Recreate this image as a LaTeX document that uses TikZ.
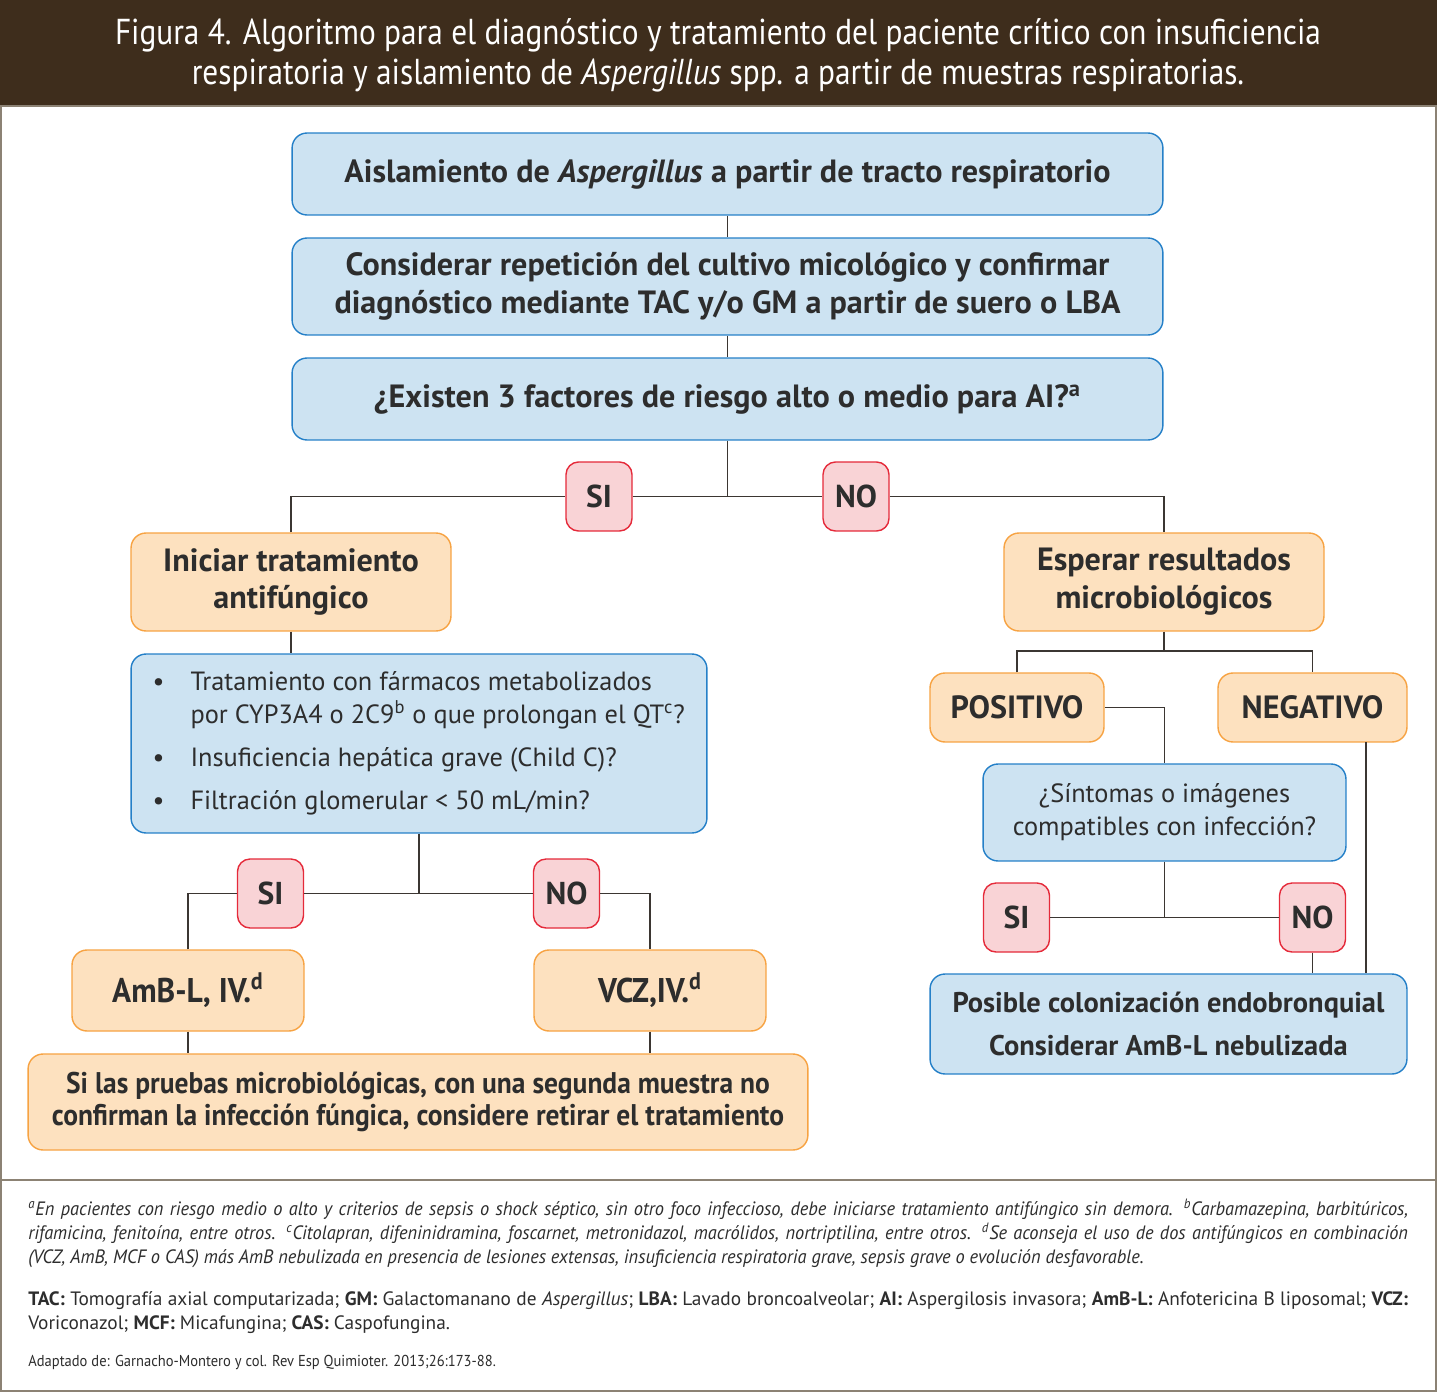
\documentclass[tikz,border=0pt]{standalone}
\usepackage{fontspec}
\setmainfont{PT Sans}
\newfontfamily\condfont{PT Sans}[FakeStretch=0.92]
\newfontfamily\headfont{PT Sans}[FakeStretch=0.87]
\newfontfamily\footfont{PT Sans}[FakeStretch=0.95]
\usepackage{xcolor}
\usepackage{tikz}

\definecolor{headbrown}{HTML}{3E2D1C}
\definecolor{framegray}{HTML}{8C8274}
\definecolor{linegray}{HTML}{3B3632}
\definecolor{txtgray}{HTML}{2D2D2D}
\definecolor{boxblue}{HTML}{2580C8}
\definecolor{fillblue}{HTML}{CDE3F2}
\definecolor{boxorange}{HTML}{F7A343}
\definecolor{fillorange}{HTML}{FDE1BF}
\definecolor{badgered}{HTML}{E52A3A}
\definecolor{fillpink}{HTML}{F9D3D6}

\begin{document}
\begin{tikzpicture}[x=0.02cm,y=-0.02cm,
  conn/.style={draw=linegray,line width=1.1pt},
  bluebox/.style={draw=boxblue,fill=fillblue,line width=0.8pt,rounded corners=0.3cm,
    align=center,text=txtgray,inner sep=0pt},
  orangebox/.style={draw=boxorange,fill=fillorange,line width=0.8pt,rounded corners=0.3cm,
    align=center,text=txtgray,inner sep=0pt},
  answer/.style={draw=badgered,fill=fillpink,line width=0.8pt,rounded corners=0.25cm,
    minimum width=1.32cm,minimum height=1.38cm,inner sep=0pt,text=txtgray,
    font=\fontsize{18}{20}\selectfont\bfseries},
  bigbold/.style={font=\fontsize{18.3}{21.5}\selectfont\bfseries},
  footline/.style={anchor=base west,inner sep=0pt,text=txtgray}
]
\useasboundingbox (0,0) rectangle (1437,1392);
% frame and header
\fill[white] (0,0) rectangle (1437,1392);
\draw[framegray,line width=1.2pt] (1,1) rectangle (1436,1391);
\fill[headbrown] (0,0) rectangle (1437,105);
\draw[framegray,line width=1pt] (0,106) -- (1437,106);
\node[text=white,font=\headfont\fontsize{20.5}{22.7}\selectfont,align=center] (title) at (718,55)
  {Figura 4. Algoritmo para el diagnóstico y tratamiento del paciente crítico con insuficiencia\\
   respiratoria y aislamiento de \textit{Aspergillus} spp. a partir de muestras respiratorias.};

% central column
\node[bluebox,bigbold,minimum width=17.42cm,minimum height=1.64cm] (aisl) at (727.5,174)
  {Aislamiento de \textit{Aspergillus} a partir de tracto respiratorio};
\node[bluebox,bigbold,minimum width=17.42cm,minimum height=1.94cm] (cons) at (727.5,286.5)
  {Considerar repetición del cultivo micológico y confirmar\\
   diagnóstico mediante TAC y/o GM a partir de suero o LBA};
\node[bluebox,bigbold,minimum width=17.42cm,minimum height=1.64cm] (riesgo) at (727.5,399)
  {¿Existen 3 factores de riesgo alto o medio para AI?\textsuperscript{a}};
\node[answer] (si1) at (599,496.5) {SI};
\node[answer] (no1) at (856,496.5) {NO};

% left branch
\node[orangebox,bigbold,minimum width=6.4cm,minimum height=1.96cm] (inic) at (291,582)
  {Iniciar tratamiento\\antifúngico};
\node[bluebox,minimum width=11.52cm,minimum height=3.58cm,align=left,inner xsep=0.32cm,
  font=\fontsize{15}{18.7}\selectfont] (lista) at (419,743.5)
  {\begin{tabular}{@{}p{0.76cm}@{}p{9.9cm}@{}}
   \textbullet & Tratamiento con fármacos metabolizados\newline
                 por CYP3A4 o 2C9\textsuperscript{b} o que prolongan el QT\textsuperscript{c}?\\[6pt]
   \textbullet & Insuficiencia hepática grave (Child C)?\\[6pt]
   \textbullet & Filtración glomerular < 50 mL/min?
   \end{tabular}};
\node[answer] (si2) at (270.5,893.5) {SI};
\node[answer] (no2) at (566.5,893.5) {NO};
\node[orangebox,minimum width=4.64cm,minimum height=1.62cm,
  font=\condfont\fontsize{19.5}{22}\selectfont\bfseries] (amb) at (188,990.5)
  {AmB-L, IV.\textsuperscript{d}};
\node[orangebox,minimum width=4.64cm,minimum height=1.62cm,
  font=\condfont\fontsize{19.5}{22}\selectfont\bfseries] (vcz) at (650,990.5)
  {VCZ,IV.\textsuperscript{d}};
\node[orangebox,minimum width=15.6cm,minimum height=1.92cm,
  font=\condfont\fontsize{17}{18.5}\selectfont\bfseries] (retirar) at (418,1102)
  {Si las pruebas microbiológicas, con una segunda muestra no\\
   confirman la infección fúngica, considere retirar el tratamiento};

% right branch
\node[orangebox,bigbold,minimum width=6.4cm,minimum height=1.96cm] (esper) at (1164,582)
  {Esperar resultados\\microbiológicos};
\coordinate (split) at (1164,651);
\node[orangebox,bigbold,minimum width=3.48cm,minimum height=1.38cm] (posit) at (1017,707.5) {POSITIVO};
\node[orangebox,bigbold,minimum width=3.78cm,minimum height=1.38cm] (negat) at (1312.5,707.5) {NEGATIVO};
\node[bluebox,minimum width=7.26cm,minimum height=1.94cm,
  font=\fontsize{15}{18.7}\selectfont] (sint) at (1164.5,812.5)
  {¿Síntomas o imágenes\\compatibles con infección?};
\node[answer] (si3) at (1016.5,917.5) {SI};
\node[answer] (no3) at (1312.5,917.5) {NO};
\node[bluebox,minimum width=9.54cm,minimum height=2.0cm,
  font=\fontsize{16.2}{24.4}\selectfont\bfseries] (coloniz) at (1168.5,1024)
  {Posible colonización endobronquial\\Considerar AmB-L nebulizada};
\coordinate (negout) at (1366,742);

% connectors
\draw[conn] (aisl) -- (cons);
\draw[conn] (cons) -- (riesgo);
\draw[conn] (riesgo.south) -- (riesgo.south |- si1.east);
\draw[conn] (inic.north) |- (si1.west);
\draw[conn] (si1.east) -- (no1.west);
\draw[conn] (no1.east) -| (esper.north);
\draw[conn] (inic.south) -- (inic.south |- lista.north);
\draw[conn] (lista.south) -- (lista.south |- si2.east);
\draw[conn] (amb.north) |- (si2.west);
\draw[conn] (si2.east) -- (no2.west);
\draw[conn] (no2.east) -| (vcz.north);
\draw[conn] (amb.south) -- (amb.south |- retirar.north);
\draw[conn] (vcz.south) -- (vcz.south |- retirar.north);
\draw[conn] (esper.south) -- (split);
\draw[conn] (posit.north) |- (split) -| (negat.north);
\draw[conn] (posit.east) -| (sint.north);
\draw[conn] (sint.south) -- (sint.south |- si3.east);
\draw[conn] (si3.east) -- (no3.west);
\draw[conn] (no3.south) -- (no3.south |- coloniz.north);
\draw[conn] (negout) -- (negout |- coloniz.north);

% footnotes
\draw[framegray,line width=1pt] (0,1180) -- (1437,1180);
\node[footline,font=\footfont\itshape\fontsize{11}{13.6}\selectfont] (fna) at (28,1215)
  {\makebox[27.6cm][s]{\textsuperscript{a}En pacientes con riesgo medio o alto y criterios de sepsis o shock séptico, sin otro foco infeccioso, debe iniciarse tratamiento antifúngico sin demora. \textsuperscript{b}Carbamazepina, barbitúricos,}};
\node[footline,font=\footfont\itshape\fontsize{11}{13.6}\selectfont] (fnb) at (28,1239)
  {\makebox[27.6cm][s]{rifamicina, fenitoína, entre otros. \textsuperscript{c}Citolapran, difeninidramina, foscarnet, metronidazol, macrólidos, nortriptilina, entre otros. \textsuperscript{d}Se aconseja el uso de dos antifúngicos en combinación}};
\node[footline,font=\footfont\itshape\fontsize{11}{13.6}\selectfont] (fnc) at (28,1263)
  {(VCZ, AmB, MCF o CAS) más AmB nebulizada en presencia de lesiones extensas, insuficiencia respiratoria grave, sepsis grave o evolución desfavorable.};
\node[footline,font=\fontsize{11}{13.6}\selectfont] (abra) at (28,1305)
  {\makebox[27.6cm][s]{\textbf{TAC:} Tomografía axial computarizada; \textbf{GM:} Galactomanano de \textit{Aspergillus}; \textbf{LBA:} Lavado broncoalveolar; \textbf{AI:} Aspergilosis invasora; \textbf{AmB-L:} Anfotericina B liposomal; \textbf{VCZ:}}};
\node[footline,font=\fontsize{11}{13.6}\selectfont] (abrb) at (28,1329)
  {Voriconazol; \textbf{MCF:} Micafungina; \textbf{CAS:} Caspofungina.};
\node[footline,font=\condfont\fontsize{9}{10}\selectfont] (fuente) at (28,1366)
  {Adaptado de: Garnacho-Montero y col. Rev Esp Quimioter. 2013;26:173-88.};
\end{tikzpicture}
\end{document}
